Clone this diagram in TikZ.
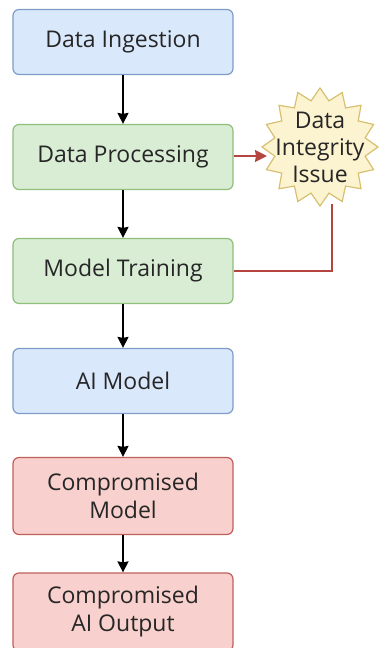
\documentclass[tikz,border=0pt]{standalone}
\usepackage{fontspec}
\setmainfont{Open Sans}
\usetikzlibrary{arrows.meta}
\definecolor{bfill}{HTML}{DAE8FC}\definecolor{bdraw}{HTML}{7D9CC8}
\definecolor{gfill}{HTML}{D9EDD5}\definecolor{gdraw}{HTML}{8FBF7A}
\definecolor{rfill}{HTML}{F8D0CD}\definecolor{rdraw}{HTML}{C0605A}
\definecolor{sfill}{HTML}{FCF3D0}\definecolor{sdraw}{HTML}{D8C070}
\definecolor{redline}{HTML}{B5463F}
\begin{document}
\begin{tikzpicture}[x=1pt,y=-1pt,
  box/.style={rounded corners=6pt,line width=1.2pt,minimum width=220pt,align=center,
    font=\fontsize{23}{28}\selectfont,inner sep=0pt,text=black!85},
  blue/.style={box,fill=bfill,draw=bdraw,minimum height=65pt},
  green/.style={box,fill=gfill,draw=gdraw,minimum height=65pt},
  redb/.style={box,fill=rfill,draw=rdraw},
  arr/.style={line width=1.8pt,-{Stealth[length=11pt,width=11pt,inset=1pt]}},
  rarr/.style={line width=1.8pt,draw=redline},
  burst/.style={fill=sfill,draw=sdraw,line width=1.2pt,line join=miter}]
\useasboundingbox (0,0) rectangle (387,648);
\node[blue] (ing) at (123,42) {Data Ingestion};
\node[green] (proc) at (123,157) {Data Processing};
\node[green] (train) at (123,271) {Model Training};
\node[blue] (ai) at (123,381) {AI Model};
\node[redb,minimum height=77pt] (cm) at (123,496) {Compromised\\Model};
\node[redb,minimum height=78pt] (co) at (123,612) {Compromised\\AI Output};
\draw[burst] plot[variable=\t,samples at={0,...,31}]
  ({320+(mod(\t,2)==0?58:46)*cos(90+\t*11.25)},{147-(mod(\t,2)==0?59:47)*sin(90+\t*11.25)}) -- cycle;
\node[align=center,text=black!85,inner sep=0pt,font=\fontsize{23}{27}\selectfont] (iss) at (320,147) {Data\\Integrity\\Issue};
\draw[arr] (ing) -- (proc);
\draw[arr] (proc) -- (train);
\draw[arr] (train) -- (ai);
\draw[arr] (ai) -- (cm);
\draw[arr] (cm) -- (co);
\coordinate (sl) at (267,156);
\draw[rarr,-{Stealth[length=12pt,width=12pt,inset=1pt]},color=redline] (proc.east |- sl) -- (sl);
\coordinate (sb) at (332,204);
\draw[rarr] (train.east) -- (train.east -| sb) -- (sb);
\end{tikzpicture}
\end{document}
